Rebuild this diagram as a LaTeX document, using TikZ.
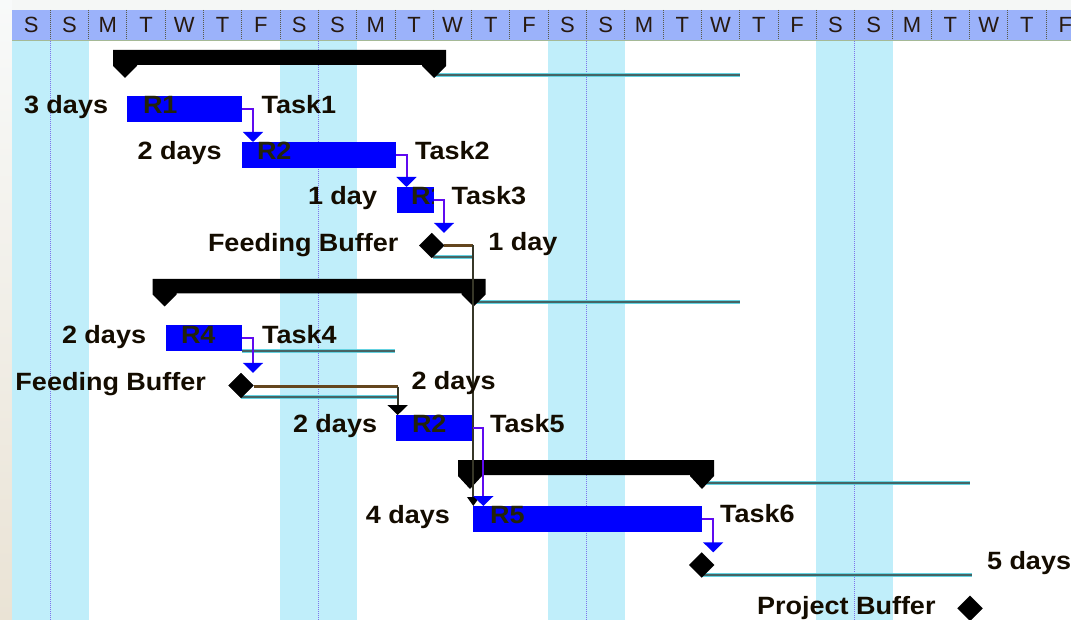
\documentclass[tikz,border=0pt]{standalone}
\usepackage{fontspec}
\setmainfont{Liberation Sans}
\newfontfamily\lblfont{Liberation Sans}[FakeStretch=1.08]
\usetikzlibrary{arrows.meta,shapes.geometric}
\definecolor{barblue}{RGB}{0,0,255}
\definecolor{connblue}{RGB}{95,10,240}
\definecolor{wkshade}{RGB}{192,238,250}
\definecolor{wkline}{RGB}{125,115,235}
\definecolor{hdrfill}{RGB}{155,178,250}
\definecolor{hdrline}{RGB}{90,90,70}
\definecolor{hdrtext}{RGB}{40,25,15}
\definecolor{hdrbot}{RGB}{165,185,150}
\definecolor{slackdark}{RGB}{70,100,100}
\definecolor{slackedge}{RGB}{100,210,225}
\definecolor{bufcol}{RGB}{100,70,30}
\definecolor{linkcol}{RGB}{55,55,40}
\definecolor{txt}{RGB}{20,12,0}
\definecolor{rtxt}{RGB}{35,35,10}
\definecolor{striptop}{RGB}{248,250,250}
\definecolor{stripbot}{RGB}{234,227,213}
\definecolor{topband}{RGB}{245,247,246}
\newcommand\ganttsum[5]{%
  \fill[black] ({#1-12},#3) -- ({#2+12},#3) -- ({#2+12},{#4+1}) -- (#2,#5)
    -- ({#2-12},{#4+1}) -- ({#2-12},#4) -- ({#1+12},#4) -- ({#1+12},{#4+1})
    -- (#1,#5) -- ({#1-12},{#4+1}) -- cycle;}
\begin{document}
\begin{tikzpicture}[x=1pt,y=-1pt,
  bar/.style={rectangle,fill=barblue,inner sep=0pt,outer sep=0pt,anchor=north west,minimum height=26pt},
  lbl/.style={anchor=base west,inner sep=0pt,outer sep=0pt,text=txt,font=\lblfont\bfseries\fontsize{25}{25}\selectfont},
  rlbl/.style={lbl,text=rtxt},
  hdr/.style={anchor=base,inner sep=0pt,text=hdrtext,font=\fontsize{22}{22}\selectfont},
  hdrdiv/.style={draw=hdrline,line width=1pt,densely dotted},
  wkdiv/.style={draw=wkline,line width=1pt,densely dotted},
  conn/.style={draw=connblue,line width=2pt,-{Triangle[width=20pt,length=10pt,color=barblue]}},
  link/.style={draw=linkcol,line width=2.2pt},
  bufline/.style={draw=bufcol,line width=2.2pt},
  slack/.style={draw=slackedge,line width=1pt,double=slackdark,double distance=2pt},
  mile/.style={diamond,fill=black,draw=black,inner sep=0pt,minimum width=25pt,minimum height=25pt}]
\useasboundingbox (0,0) rectangle (1071,620);
\clip (0,0) rectangle (1071,620);
\fill[white] (0,0) rectangle (1071,620);
\shade[top color=striptop,bottom color=stripbot] (0,0) rectangle (12,620);
\fill[topband] (12,0) rectangle (1071,10);
% header
\fill[hdrfill] (12,10) rectangle (1071,41);
\draw[hdrbot,line width=1pt] (12,40.5) -- (1071,40.5);
\foreach \k in {1,...,27} \draw[hdrdiv] ({12+\k*38.3},10) -- ({12+\k*38.3},40);
\foreach \l [count=\i from 0] in {S,S,M,T,W,T,F,S,S,M,T,W,T,F,S,S,M,T,W,T,F,S,S,M,T,W,T,F}
  \node[hdr] (h\i) at ({12+(\i+0.5)*38.3},33) {\l};
% weekends
\foreach \k in {0,7,14,21} {
  \fill[wkshade] ({12+\k*38.3},41) rectangle ({12+(\k+2)*38.3},620);
  \draw[wkdiv] ({12+(\k+1)*38.3},41) -- ({12+(\k+1)*38.3},620);
}
% slack lines
\draw[slack] (434,75.5) -- (740,75.5);
\draw[slack] (473.5,302.5) -- (740,302.5);
\draw[slack] (702,483) -- (970,483);
\draw[slack] (242,351) -- (395,351);
\draw[slack] (702,575) -- (971.5,575);
\draw[slack] (433,257) -- (473.3,257);
\draw[slack] (241,397) -- (397.7,397);
% summary bars
\ganttsum{125}{434}{50}{65}{78}
\ganttsum{164.6}{473.5}{279}{293.5}{306.5}
\ganttsum{470}{702}{460}{475}{489}
% task bars
\node[bar,minimum width=115pt] (t1) at (127,96) {};
\node[bar,minimum width=153.5pt] (t2) at (242,142) {};
\node[bar,minimum width=37pt] (t3) at (396.5,187) {};
\node[bar,minimum width=76.5pt] (t4) at (165.5,325) {};
\node[bar,minimum width=76.7pt] (t5) at (396,415) {};
\node[bar,minimum width=229pt] (t6) at (472.7,506) {};
% milestones
\node[mile] (fb1d) at (431.7,245.5) {};
\node[mile] (fb2d) at (241,385.5) {};
\node[mile] (d6) at (701.7,565) {};
\node[mile] (pbd) at (970,608.3) {};
% buffers and links
\coordinate (fb1e) at (473.3,245.5);
\coordinate (fb2e) at (397.7,386.5);
\draw[bufline] (fb1d.east) -- (fb1e);
\draw[bufline] (fb2d.east |- fb2e) -- (fb2e);
\draw[link,-{Triangle[width=12pt,length=9pt,color=black]}] (fb1e) -- (fb1e |- t6.north);
\draw[link,-{Triangle[width=20pt,length=10pt,color=black]}] (fb2e) -- (fb2e |- t5.north);
% blue connectors
\draw[conn] (t1.east) -| ([xshift=11pt]t2.north west);
\draw[conn] (t2.east) -| ([xshift=10pt]t3.north west);
\draw[conn] (t3.east) -| ([xshift=12.3pt]fb1d.north);
\draw[conn] (t4.east) -| ([xshift=12pt]fb2d.north);
\draw[conn] (t5.east) -| ([xshift=10.6pt]t6.north west);
\draw[conn] (t6.east) -| ([xshift=11.5pt]d6.north);
% labels
\node[lbl] (d1) at (24,113.5) {3 days};
\node[rlbl] (r1) at (143,113.5) {R1};
\node[lbl] (n1) at (261.7,113.5) {Task1};
\node[lbl] (d2) at (137.7,159.5) {2 days};
\node[rlbl] (r2) at (257,159.5) {R2};
\node[lbl] (n2) at (415,159.5) {Task2};
\node[lbl] (d3) at (308,204.5) {1 day};
\begin{scope}
  \clip ([yshift=3pt]t3.north west) rectangle (t3.south east);
  \node[rlbl] (r3) at (411,204.5) {R1};
\end{scope}
\node[lbl] (n3) at (451.7,204.5) {Task3};
\node[lbl] (f1) at (208,251.5) {Feeding Buffer};
\node[lbl] (b1) at (488.3,250.5) {1 day};
\node[lbl] (d4) at (62,343) {2 days};
\node[rlbl] (r4) at (181,343) {R4};
\node[lbl] (n4) at (262,343) {Task4};
\node[lbl] (f2) at (15.5,390.5) {Feeding Buffer};
\node[lbl] (b2) at (411.5,389) {2 days};
\node[lbl] (d5) at (293,432) {2 days};
\node[rlbl] (r5) at (412,432) {R2};
\node[lbl] (n5) at (490,432) {Task5};
\node[lbl,anchor=base east] (d6l) at (450,523.5) {4 days};
\node[rlbl] (r6) at (490,523) {R5};
\node[lbl] (n6) at (720,522) {Task6};
\node[lbl] (b6) at (987,569) {5 days};
\node[lbl] (pb) at (757,614) {Project Buffer};
\end{tikzpicture}
\end{document}
